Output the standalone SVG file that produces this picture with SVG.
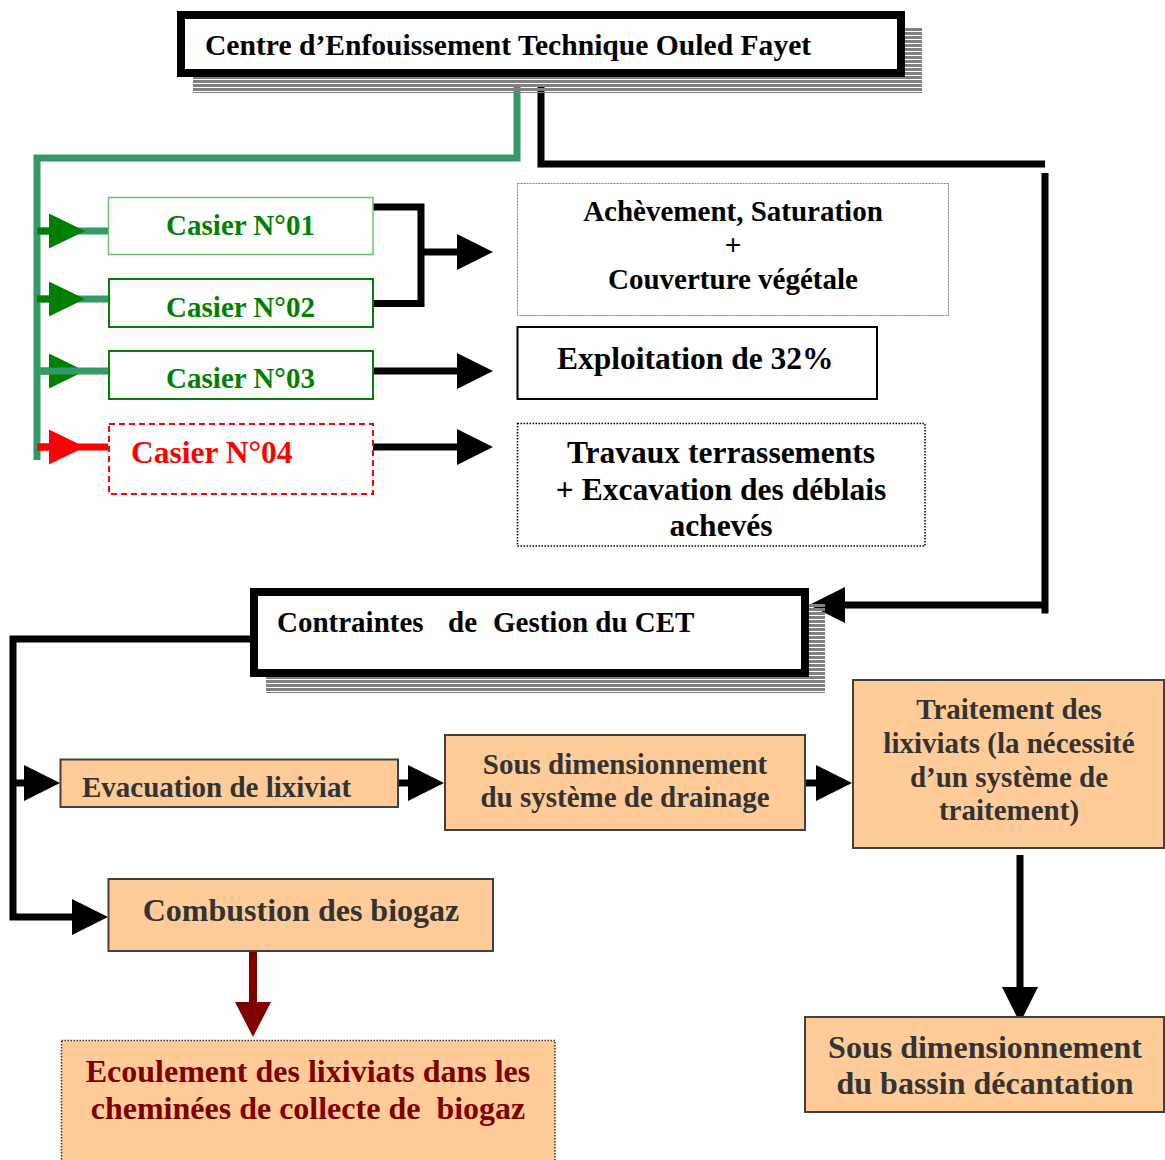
<svg xmlns="http://www.w3.org/2000/svg" width="1165" height="1160" viewBox="0 0 1165 1160">
<style>
text{font-family:"Liberation Serif","Times New Roman",serif;font-weight:bold}
.t29{font-size:29px}
.t31{font-size:31.5px}
.t32{font-size:32px}
.mid{text-anchor:middle}
.blk{fill:#000}
.dk{fill:#333333}
.grn{fill:#008000}
.orange{fill:#FFCC99;stroke:#404040;stroke-width:2}
.ln{fill:none;stroke:#000;stroke-width:7;stroke-linejoin:miter}
.lg{fill:none;stroke:#339966;stroke-width:7}
.dg{fill:none;stroke:#008000;stroke-width:7}
</style>
<defs>
<pattern id="stripes" width="8" height="4" patternUnits="userSpaceOnUse"><rect width="8" height="3" fill="#808080"/></pattern>
<marker id="ab" markerUnits="userSpaceOnUse" markerWidth="36" markerHeight="36" refX="10" refY="18" orient="auto"><path d="M0,0 L36,18 L0,36z" fill="#000"/></marker>
<marker id="ag" markerUnits="userSpaceOnUse" markerWidth="36" markerHeight="36" refX="10" refY="18" orient="auto"><path d="M0,0.5 L36,18 L0,35.5z" fill="#008000"/></marker>
<marker id="ar" markerUnits="userSpaceOnUse" markerWidth="36" markerHeight="36" refX="10" refY="18" orient="auto"><path d="M0,0.5 L36,18 L0,35.5z" fill="#ff0000"/></marker>
<marker id="ad" markerUnits="userSpaceOnUse" markerWidth="36" markerHeight="36" refX="10" refY="18" orient="auto"><path d="M0,0 L35,18 L0,36z" fill="#800000"/></marker>
</defs>

<g id="connectors">
<path class="lg" d="M517,87 V158 H37 V460"/>
<path class="lg" d="M37,231 H108"/>
<path class="lg" d="M37,299 H108"/>
<path class="dg" d="M37,231 H59" marker-end="url(#ag)"/>
<path class="dg" d="M37,299 H59" marker-end="url(#ag)"/>
<path class="dg" d="M37,371 H59" marker-end="url(#ag)"/>
<path class="lg" d="M37,371 H108"/>
<path fill="none" stroke="#ff0000" stroke-width="7" d="M37,447 H59" marker-end="url(#ar)"/>
<path fill="none" stroke="#ff0000" stroke-width="7" d="M37,447 H108"/>
<path class="ln" d="M373,207 H421 V303.5 H373"/>
<path class="ln" d="M421,252 H467" marker-end="url(#ab)"/>
<path class="ln" d="M373,371 H467" marker-end="url(#ab)"/>
<path class="ln" d="M373,447 H467" marker-end="url(#ab)"/>
<path class="ln" d="M541,87 V164 H1045"/>
<path class="ln" d="M1045,173 V613.5"/>
<path class="ln" d="M1045,605 H835" marker-end="url(#ab)"/>
<path class="ln" d="M250,639 H13 V917 H82" marker-end="url(#ab)"/>
<path class="ln" d="M13,783 H34" marker-end="url(#ab)"/>
<path class="ln" d="M398,783 H418" marker-end="url(#ab)"/>
<path class="ln" d="M805,783 H826" marker-end="url(#ab)"/>
<path class="ln" d="M1020,855 V997" marker-end="url(#ab)"/>
<path fill="none" stroke="#800000" stroke-width="8" d="M253,951 V1012" marker-end="url(#ad)"/>
</g>

<g id="cet">
<rect x="193" y="27" width="729" height="66" fill="url(#stripes)"/>
<rect x="181" y="15" width="720" height="58" fill="#fff" stroke="#000" stroke-width="8"/>
<text class="blk" x="205" y="55" font-size="29.6">Centre d’Enfouissement Technique Ouled Fayet</text>
</g>

<g id="casier1">
<rect x="108.5" y="197.5" width="264.5" height="57" fill="#fff" stroke="#6cc06c" stroke-width="1.5"/>
<text class="t29 grn mid" x="240.5" y="235">Casier N°01</text>
</g>
<g id="casier2">
<rect x="109" y="279" width="264" height="48" fill="#fff" stroke="#008000" stroke-width="2"/>
<text class="t29 grn mid" x="240.5" y="317">Casier N°02</text>
</g>
<g id="casier3">
<rect x="109" y="351" width="264" height="48" fill="#fff" stroke="#008000" stroke-width="2"/>
<text class="t29 grn mid" x="240.5" y="388">Casier N°03</text>
</g>
<g id="casier4">
<rect x="109" y="424" width="264" height="70" fill="#fff" stroke="#ff0000" stroke-width="2" stroke-dasharray="6,4"/>
<text class="t31" x="131" y="463" fill="#ff0000">Casier N°04</text>
</g>

<g id="achevement">
<rect x="517.5" y="183.5" width="431" height="132" fill="#fff" stroke="#808080" stroke-width="1" stroke-dasharray="2,1"/>
<text class="t29 blk mid" x="733" y="221">Achèvement, Saturation</text>
<text class="t29 blk mid" x="733" y="255">+</text>
<text class="t29 blk mid" x="733" y="289">Couverture végétale</text>
</g>
<g id="exploitation">
<rect x="517.5" y="327" width="359.5" height="72" fill="#fff" stroke="#000" stroke-width="2"/>
<text class="t31 blk" x="557" y="369">Exploitation de 32%</text>
</g>
<g id="travaux">
<rect x="517.5" y="423.5" width="407.5" height="122.5" fill="#fff" stroke="#000" stroke-width="1.5" stroke-dasharray="1.5,1.5"/>
<text class="t31 blk mid" x="721" y="463">Travaux terrassements</text>
<text class="t31 blk mid" x="721" y="500">+ Excavation des déblais</text>
<text class="t31 blk mid" x="721" y="536">achevés</text>
</g>

<g id="contraintes">
<rect x="266" y="604" width="559" height="89" fill="url(#stripes)"/>
<rect x="254" y="592" width="551" height="81" fill="#fff" stroke="#000" stroke-width="8"/>
<text class="t29 blk" y="632"><tspan x="277">Contraintes</tspan><tspan x="448">de</tspan><tspan x="493">Gestion du CET</tspan></text>
</g>

<g id="evacuation">
<rect class="orange" x="60.5" y="759.5" width="337.5" height="47.5"/>
<text class="t29 dk" x="82" y="797">Evacuation de lixiviat</text>
</g>
<g id="drainage">
<rect class="orange" x="445" y="735" width="360" height="95"/>
<text class="t29 dk mid" x="625" y="774">Sous dimensionnement</text>
<text class="t29 dk mid" x="625" y="807">du système de drainage</text>
</g>
<g id="traitement">
<rect class="orange" x="853" y="680" width="311" height="168"/>
<text class="t29 dk mid" x="1009" y="719">Traitement des</text>
<text class="t29 dk mid" x="1009" y="753">lixiviats (la nécessité</text>
<text class="t29 dk mid" x="1009" y="787">d’un système de</text>
<text class="t29 dk mid" x="1009" y="820">traitement)</text>
</g>
<g id="combustion">
<rect class="orange" x="108.5" y="879" width="384.5" height="72"/>
<text class="t32 dk mid" x="301" y="921">Combustion des biogaz</text>
</g>
<g id="bassin">
<rect class="orange" x="805" y="1017" width="359" height="95"/>
<text class="t32 dk mid" x="985" y="1058">Sous dimensionnement</text>
<text class="t32 dk mid" x="985" y="1094">du bassin décantation</text>
</g>
<g id="ecoulement">
<rect x="61.5" y="1040.5" width="493.5" height="130" fill="#FFCC99" stroke="#333" stroke-width="1.5" stroke-dasharray="1.5,1.5"/>
<text class="t32 mid" x="308" y="1082" fill="#800000">Ecoulement des lixiviats dans les</text>
<text class="t32 mid" x="308" y="1119" fill="#800000" xml:space="preserve">cheminées de collecte de  biogaz</text>
</g>
</svg>
